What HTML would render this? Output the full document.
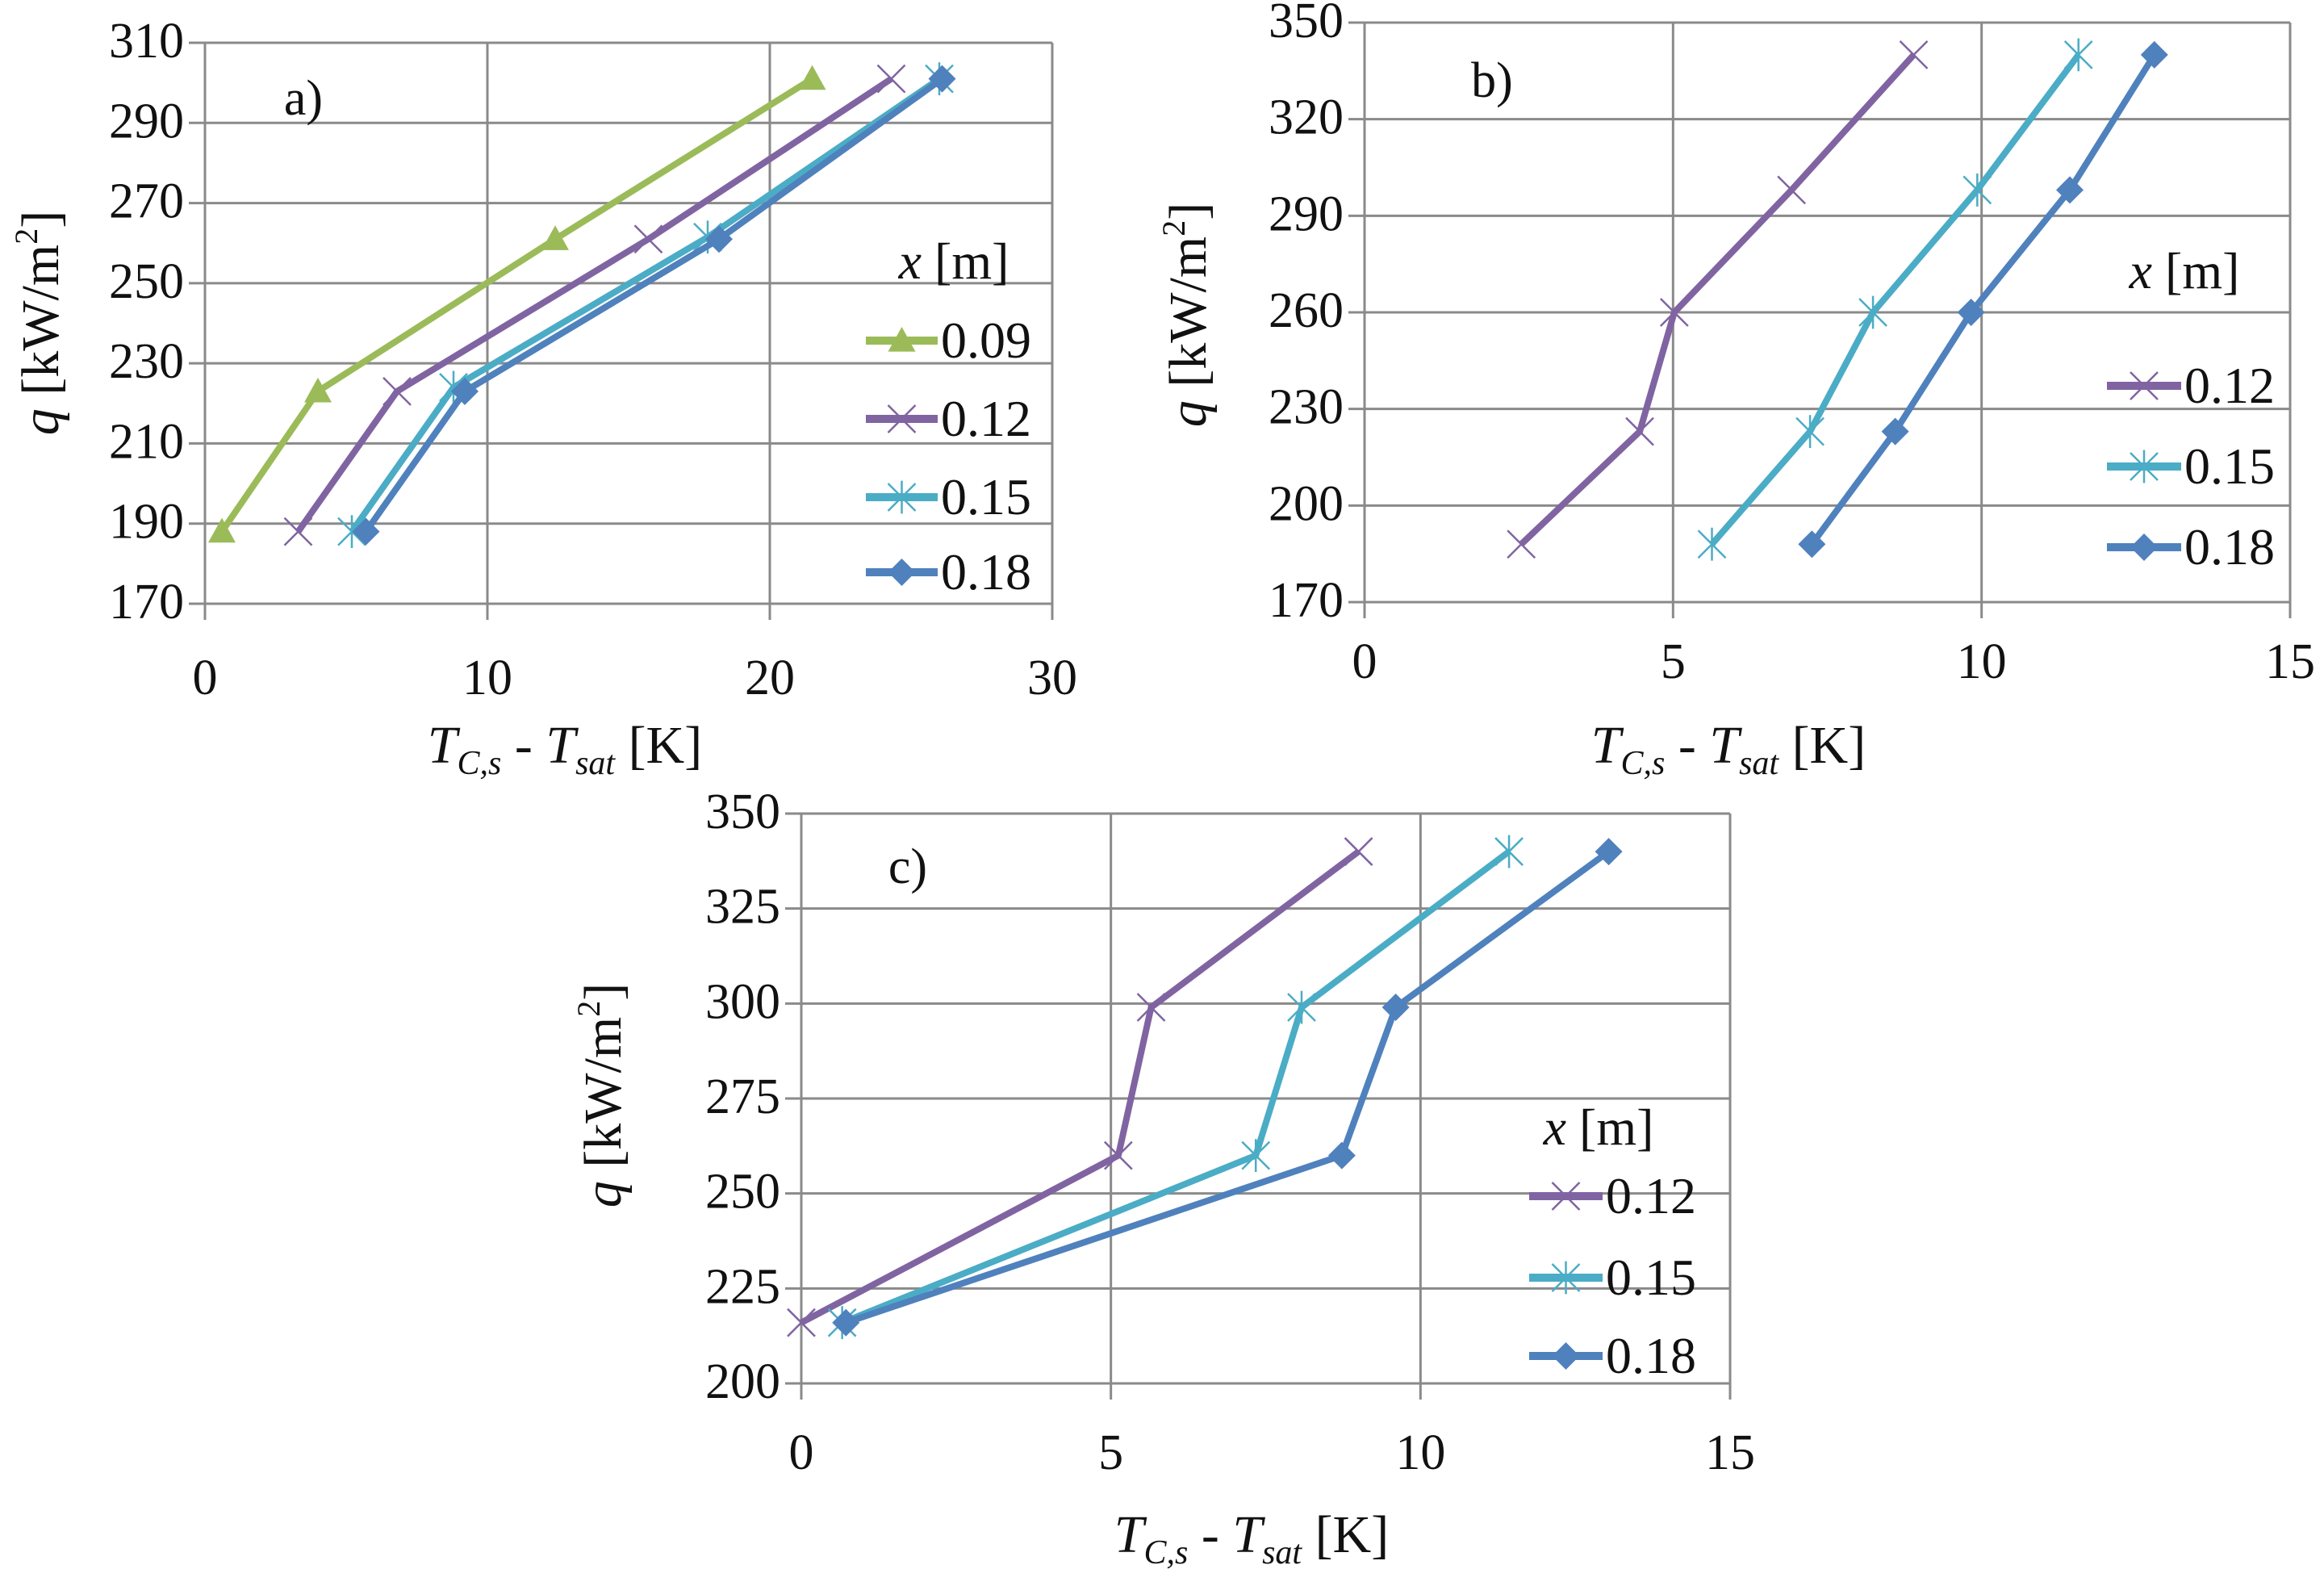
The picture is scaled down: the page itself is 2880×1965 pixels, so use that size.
<!DOCTYPE html>
<html><head><meta charset="utf-8"><style>
html,body{margin:0;padding:0;background:#fff;}
svg{display:block;}
text{font-family:"Liberation Serif",serif;fill:#111;}
</style></head><body>
<svg id="chart" width="2880" height="1965" viewBox="0 0 2880 1965" xmlns="http://www.w3.org/2000/svg"></svg>
<script>
// Panel a data
const aX = [0, 10, 20, 30];
const aY = [170, 190, 210, 230, 250, 270, 290, 310];
const aLabels = ["0.09", "0.12", "0.15", "0.18"];
const aQ = [188, 223, 261, 301];
const a009 = [0.6, 4.0, 12.4, 21.5];
const a012 = [3.3, 6.8, 15.7, 24.3];
const a015 = [5.2, 8.8, 17.8, 26.0];
const a018 = [5.7, 9.2, 18.2, 26.1];
const aQ015 = [188, 224, 261.5, 301];
// Panel b data
const bX = [0, 5, 10, 15];
const bY = [170, 200, 230, 260, 290, 320, 350];
const bLabels = ["0.12", "0.15", "0.18"];
const bQ = [188, 223, 260, 298, 340];
const b012 = [2.54, 4.46, 5.02, 6.92, 8.9];
const b015 = [5.63, 7.22, 8.24, 9.93, 11.57];
const b018 = [7.25, 8.6, 9.83, 11.43, 12.8];
// Panel c data
const cX = [0, 5, 10, 15];
const cY = [200, 225, 250, 275, 300, 325, 350];
const cLabels = ["0.12", "0.15", "0.18"];
const cQ = [216, 260, 299, 340];
const c012 = [0, 5.12, 5.65, 9.0];
const c015 = [0.66, 7.34, 8.08, 11.43];
const c018 = [0.72, 8.73, 9.6, 13.04];

const NS = "http://www.w3.org/2000/svg";
const svg = document.getElementById("chart");
const COL = {"0.09":"#9bbb59","0.12":"#8064a2","0.15":"#4bacc6","0.18":"#4f81bd"};
const MK = {"0.09":"tri","0.12":"x","0.15":"star","0.18":"dia"};

function el(tag, attrs, parent){
  const e = document.createElementNS(NS, tag);
  for (const k in attrs) e.setAttribute(k, attrs[k]);
  (parent||svg).appendChild(e);
  return e;
}

function marker(g, kind, cx, cy, color, s){
  let m;
  if (kind==="tri") m = el("polygon",{points:`${cx},${cy-s} ${cx+s},${cy+s*0.8} ${cx-s},${cy+s*0.8}`,fill:color},g);
  else if (kind==="dia") m = el("polygon",{points:`${cx},${cy-s} ${cx+s},${cy} ${cx},${cy+s} ${cx-s},${cy}`,fill:color},g);
  else if (kind==="x") m = el("path",{d:`M${cx-s},${cy-s}L${cx+s},${cy+s}M${cx-s},${cy+s}L${cx+s},${cy-s}`,stroke:color,"stroke-width":2.5,fill:"none"},g);
  else m = el("path",{d:`M${cx-s},${cy-s}L${cx+s},${cy+s}M${cx-s},${cy+s}L${cx+s},${cy-s}M${cx},${cy-s*1.2}L${cx},${cy+s*1.2}`,stroke:color,"stroke-width":2.5,fill:"none"},g);
  
  
}

function panel(p){
  const g = el("g",{});
  
  
  const xmin=p.xt[0], xmax=p.xt[p.xt.length-1], ymin=p.yt[0], ymax=p.yt[p.yt.length-1];
  const sx = v => p.L + (v-xmin)/(xmax-xmin)*(p.R-p.L);
  const sy = v => p.B - (v-ymin)/(ymax-ymin)*(p.B-p.T);
  const grid = el("g",{stroke:"#8a8a8a","stroke-width":3},g);
  
  
  p.yt.forEach(v=>{
    el("line",{x1:p.L-20,x2:p.R,y1:sy(v),y2:sy(v)},grid);
    const t = el("text",{x:p.L-26,y:sy(v)+18,"text-anchor":"end","font-size":62},g);
    t.textContent = v;
    
    
  });
  p.xt.forEach(v=>{
    el("line",{x1:sx(v),x2:sx(v),y1:p.T,y2:p.B+20},grid);
    const t = el("text",{x:sx(v),y:p.xl,"text-anchor":"middle","font-size":62},g);
    t.textContent = v;
    
    
  });
  p.series.forEach(s=>{
    const pts = s.x.map((v,i)=>sx(v)+","+sy(s.q[i])).join(" ");
    const line = el("polyline",{points:pts,fill:"none",stroke:COL[s.label],"stroke-width":8,"stroke-linejoin":"round"},g);
    
    
    s.x.forEach((v,i)=>marker(g, MK[s.label], sx(v), sy(s.q[i]), COL[s.label], 17));
  });
  const pl = el("text",{x:p.lab[0],y:p.lab[1]+20,"text-anchor":"middle","font-size":62},g);
  pl.textContent = p.id+")";
  
  
  const lg = el("g",{},g);
  
  
  const lt = el("text",{x:p.leg.tx,y:p.leg.ty+20,"text-anchor":"middle","font-size":64},lg);
  lt.innerHTML = '<tspan font-style="italic">x</tspan> [m]';
  
  
  p.series.forEach((s,i)=>{
    const y = p.leg.ys[i];
    const e = el("g",{},lg);
    
    
    el("line",{x1:p.leg.x1,x2:p.leg.x2,y1:y,y2:y,stroke:COL[s.label],"stroke-width":10},e);
    marker(e, MK[s.label], (p.leg.x1+p.leg.x2)/2, y, COL[s.label], 17);
    const t = el("text",{x:p.leg.x2+4,y:y+21,"font-size":64},e);
    t.textContent = s.label;
  });
  const xt = el("text",{x:p.xtc,y:p.xty+20,"text-anchor":"middle","font-size":66},g);
  xt.innerHTML = '<tspan font-style="italic">T</tspan><tspan font-style="italic" font-size="42" dy="14">C,s</tspan><tspan dy="-14"> - </tspan><tspan font-style="italic">T</tspan><tspan font-style="italic" font-size="42" dy="14">sat</tspan><tspan dy="-14"> [K]</tspan>';
  
  
  const yt = el("text",{x:0,y:0,"text-anchor":"middle","font-size":66,transform:`translate(${p.ytx+22},${p.yty}) rotate(-90)`},g);
  yt.innerHTML = '<tspan font-style="italic">q</tspan> [kW/m<tspan font-size="40" dy="-26">2</tspan><tspan dy="26">]</tspan>';
  
  
}

panel({id:"a",L:254,R:1304,T:53,B:748,xt:aX,yt:aY,xl:860,lab:[376,122],
  leg:{tx:1182,ty:325,ys:[422,519,616,709],x1:1073,x2:1162},
  xtc:700,xty:925,ytx:50,yty:400,
  series:[{label:aLabels[0],x:a009,q:aQ},{label:aLabels[1],x:a012,q:aQ},{label:aLabels[2],x:a015,q:aQ015},{label:aLabels[3],x:a018,q:aQ}]});
panel({id:"b",L:1691,R:2838,T:28,B:746,xt:bX,yt:bY,xl:840,lab:[1849,100],
  leg:{tx:2707,ty:337,ys:[478,578,678],x1:2611,x2:2703},
  xtc:2142,xty:925,ytx:1472,yty:390,
  series:[{label:bLabels[0],x:b012,q:bQ},{label:bLabels[1],x:b015,q:bQ},{label:bLabels[2],x:b018,q:bQ}]});
panel({id:"c",L:993,R:2144,T:1008,B:1714,xt:cX,yt:cY,xl:1820,lab:[1125,1074],
  leg:{tx:1981,ty:1398,ys:[1482,1583,1680],x1:1895,x2:1986},
  xtc:1551,xty:1903,ytx:747,yty:1357,
  series:[{label:cLabels[0],x:c012,q:cQ},{label:cLabels[1],x:c015,q:cQ},{label:cLabels[2],x:c018,q:cQ}]});
</script>
</body></html>
